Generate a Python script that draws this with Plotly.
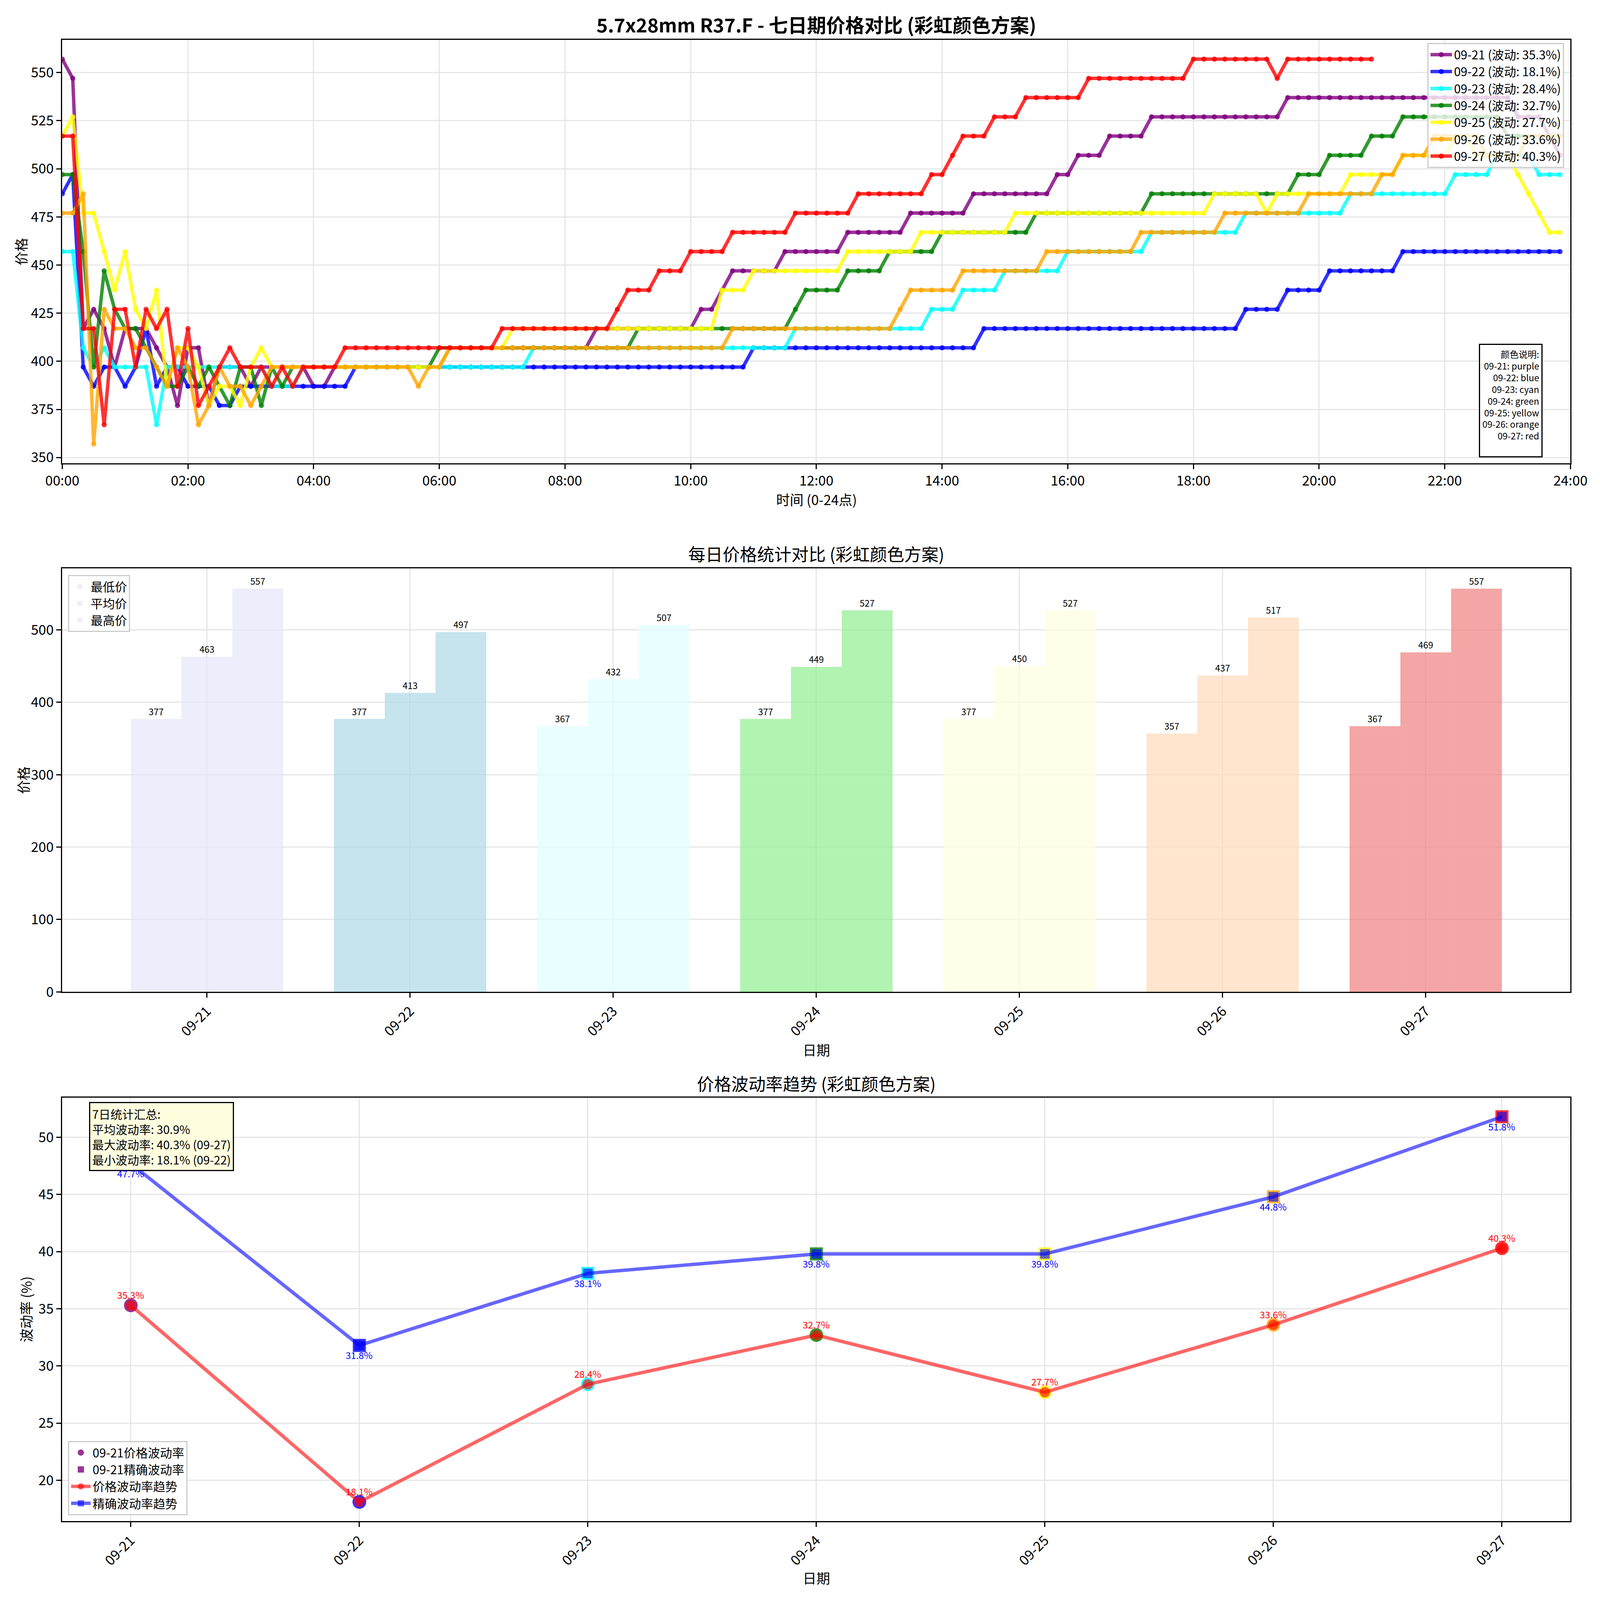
import plotly.graph_objects as go

# dados (preco a cada 10 minutos)
dias = ['09-21', '09-22', '09-23', '09-24', '09-25', '09-26', '09-27']

p_0921 = [557, 547, 417, 427, 417, 397, 417, 417, 417, 407, 397, 377,
          407, 407, 377, 397, 397, 397, 387, 397, 397, 397, 397, 397,
          387, 387, 397, 397, 397, 397, 397, 397, 397, 397, 397, 397,
          397, 407, 407, 407, 407, 407, 407, 407, 407, 407, 407, 407,
          407, 407, 407, 417, 417, 417, 417, 417, 417, 417, 417, 417,
          417, 427, 427, 437, 447, 447, 447, 447, 447, 457, 457, 457,
          457, 457, 457, 467, 467, 467, 467, 467, 467, 477, 477, 477,
          477, 477, 477, 487, 487, 487, 487, 487, 487, 487, 487, 497,
          497, 507, 507, 507, 517, 517, 517, 517, 527, 527, 527, 527,
          527, 527, 527, 527, 527, 527, 527, 527, 527, 537, 537, 537,
          537, 537, 537, 537, 537, 537, 537, 537, 537, 537, 537, 537,
          537, 537, 537, 537, 537, 537, 537, 527, 527, 527, 517, 507]

p_0922 = [487, 497, 397, 387, 397, 397, 387, 397, 417, 387, 397, 397,
          387, 387, 387, 377, 377, 387, 387, 387, 387, 387, 387, 387,
          387, 387, 387, 387, 397, 397, 397, 397, 397, 397, 397, 397,
          397, 397, 397, 397, 397, 397, 397, 397, 397, 397, 397, 397,
          397, 397, 397, 397, 397, 397, 397, 397, 397, 397, 397, 397,
          397, 397, 397, 397, 397, 397, 407, 407, 407, 407, 407, 407,
          407, 407, 407, 407, 407, 407, 407, 407, 407, 407, 407, 407,
          407, 407, 407, 407, 417, 417, 417, 417, 417, 417, 417, 417,
          417, 417, 417, 417, 417, 417, 417, 417, 417, 417, 417, 417,
          417, 417, 417, 417, 417, 427, 427, 427, 427, 437, 437, 437,
          437, 447, 447, 447, 447, 447, 447, 447, 457, 457, 457, 457,
          457, 457, 457, 457, 457, 457, 457, 457, 457, 457, 457, 457]

p_0923 = [457, 457, 407, 397, 407, 397, 397, 397, 397, 367, 397, 397,
          397, 397, 397, 397, 397, 397, 397, 397, 387, 387, 387, 397,
          397, 397, 397, 397, 397, 397, 397, 397, 397, 397, 397, 397,
          397, 397, 397, 397, 397, 397, 397, 397, 397, 407, 407, 407,
          407, 407, 407, 407, 407, 407, 407, 407, 407, 407, 407, 407,
          407, 407, 407, 407, 407, 407, 407, 407, 407, 407, 417, 417,
          417, 417, 417, 417, 417, 417, 417, 417, 417, 417, 417, 427,
          427, 427, 437, 437, 437, 437, 447, 447, 447, 447, 447, 447,
          457, 457, 457, 457, 457, 457, 457, 457, 467, 467, 467, 467,
          467, 467, 467, 467, 467, 477, 477, 477, 477, 477, 477, 477,
          477, 477, 477, 487, 487, 487, 487, 487, 487, 487, 487, 487,
          487, 497, 497, 497, 497, 507, 507, 507, 507, 497, 497, 497]

p_0924 = [497, 497, 457, 397, 447, 427, 417, 417, 407, 397, 387, 387,
          397, 387, 397, 387, 377, 397, 397, 377, 397, 387, 397, 397,
          397, 397, 397, 397, 397, 397, 397, 397, 397, 397, 397, 397,
          407, 407, 407, 407, 407, 407, 407, 407, 407, 407, 407, 407,
          407, 407, 407, 407, 407, 407, 407, 417, 417, 417, 417, 417,
          417, 417, 417, 417, 417, 417, 417, 417, 417, 417, 427, 437,
          437, 437, 437, 447, 447, 447, 447, 457, 457, 457, 457, 457,
          467, 467, 467, 467, 467, 467, 467, 467, 467, 477, 477, 477,
          477, 477, 477, 477, 477, 477, 477, 477, 487, 487, 487, 487,
          487, 487, 487, 487, 487, 487, 487, 487, 487, 487, 497, 497,
          497, 507, 507, 507, 507, 517, 517, 517, 527, 527, 527, 527,
          527, 527, 527, 527, 527, 527, 517, 517, 517, 517, 517, 517]

p_0925 = [517, 527, 477, 477, 457, 437, 457, 427, 417, 437, 387, 407,
          407, 397, 377, 387, 387, 377, 397, 407, 397, 397, 397, 397,
          397, 397, 397, 397, 397, 397, 397, 397, 397, 397, 397, 397,
          397, 407, 407, 407, 407, 407, 407, 417, 417, 417, 417, 417,
          417, 417, 417, 417, 417, 417, 417, 417, 417, 417, 417, 417,
          417, 417, 417, 437, 437, 437, 447, 447, 447, 447, 447, 447,
          447, 447, 447, 457, 457, 457, 457, 457, 457, 457, 467, 467,
          467, 467, 467, 467, 467, 467, 467, 477, 477, 477, 477, 477,
          477, 477, 477, 477, 477, 477, 477, 477, 477, 477, 477, 477,
          477, 477, 487, 487, 487, 487, 487, 477, 487, 487, 487, 487,
          487, 487, 487, 497, 497, 497, 497, 497, 507, 507, 507, 507,
          507, 517, 517, 507, 507, 507, 507, 497, 487, 477, 467, 467]

p_0926 = [477, 477, 487, 357, 427, 417, 417, 407, 407, 397, 387, 407,
          397, 367, 377, 397, 387, 387, 377, 387, 397, 397, 397, 397,
          397, 397, 397, 397, 397, 397, 397, 397, 397, 397, 387, 397,
          397, 407, 407, 407, 407, 407, 407, 407, 407, 407, 407, 407,
          407, 407, 407, 407, 407, 407, 407, 407, 407, 407, 407, 407,
          407, 407, 407, 407, 417, 417, 417, 417, 417, 417, 417, 417,
          417, 417, 417, 417, 417, 417, 417, 417, 427, 437, 437, 437,
          437, 437, 447, 447, 447, 447, 447, 447, 447, 447, 457, 457,
          457, 457, 457, 457, 457, 457, 457, 467, 467, 467, 467, 467,
          467, 467, 467, 477, 477, 477, 477, 477, 477, 477, 477, 487,
          487, 487, 487, 487, 487, 487, 497, 497, 507, 507, 507, 517,
          517, 517, 517, 517, 507, 507, 507, 507, 517, 517, 517, 517]

p_0927 = [517, 517, 417, 417, 367, 427, 427, 397, 427, 417, 427, 387,
          417, 377, 387, 397, 407, 397, 397, 397, 387, 397, 387, 397,
          397, 397, 397, 407, 407, 407, 407, 407, 407, 407, 407, 407,
          407, 407, 407, 407, 407, 407, 417, 417, 417, 417, 417, 417,
          417, 417, 417, 417, 417, 427, 437, 437, 437, 447, 447, 447,
          457, 457, 457, 457, 467, 467, 467, 467, 467, 467, 477, 477,
          477, 477, 477, 477, 487, 487, 487, 487, 487, 487, 487, 497,
          497, 507, 517, 517, 517, 527, 527, 527, 537, 537, 537, 537,
          537, 537, 547, 547, 547, 547, 547, 547, 547, 547, 547, 547,
          557, 557, 557, 557, 557, 557, 557, 557, 547, 557, 557, 557,
          557, 557, 557, 557, 557, 557]

precos = [p_0921, p_0922, p_0923, p_0924, p_0925, p_0926, p_0927]

# estatisticas diarias (valores escritos no grafico)
preco_min = [377, 377, 367, 377, 377, 357, 367]
preco_medio = [463, 413, 432, 449, 450, 437, 469]
preco_max = [557, 497, 507, 527, 527, 517, 557]

# volatilidade
vol_preco = [35.3, 18.1, 28.4, 32.7, 27.7, 33.6, 40.3]
vol_preciso = [47.7, 31.8, 38.1, 39.8, 39.8, 44.8, 51.8]

horas_ticks = [0, 2, 4, 6, 8, 10, 12, 14, 16, 18, 20, 22, 24]
horas_labels = ['00:00', '02:00', '04:00', '06:00', '08:00', '10:00', '12:00',
                '14:00', '16:00', '18:00', '20:00', '22:00', '24:00']

nomes_cores = ['purple', 'blue', 'cyan', 'green', 'yellow', 'orange', 'red']
cores_linha = ['128,0,128', '0,0,255', '0,255,255', '0,128,0', '255,255,0', '255,165,0', '255,0,0']
cores_barra = ['230,230,250', '173,216,230', '224,255,255', '144,238,144', '255,255,224', '255,218,185', '240,128,128']

FONTE = 'Noto Sans CJK SC'
# medidas da figura original (px) -> as posicoes sao fracoes dela
W, H = 4769, 4468
# a janela do navegador fica em 4096x4096, entao a figura ocupa a janela toda
FIG_W, FIG_H = 4080, 4080
S = 0.88          # escala de fontes e tracos
SY = FIG_H / H    # escala vertical para deslocamentos


def fs(v):
    return round(v * S)


fig = go.Figure()

# ---- grafico 1: linhas de preco
for k in range(len(dias)):
    vals = precos[k]
    horas = [i / 6 for i in range(len(vals))]
    fig.add_trace(go.Scatter(
        x=horas, y=vals, mode='lines+markers',
        name=f'{dias[k]} (波动: {vol_preco[k]}%)',
        line=dict(color=f'rgba({cores_linha[k]},0.8)', width=10 * S),
        marker=dict(size=15 * S, color=f'rgba({cores_linha[k]},0.8)'),
        xaxis='x', yaxis='y', legend='legend'))

# ---- grafico 2: barras
for k in range(len(dias)):
    cor = f'rgba({cores_barra[k]},0.7)'
    for off, vals, nome in [(-0.25, preco_min, '最低价'), (0, preco_medio, '平均价'), (0.25, preco_max, '最高价')]:
        fig.add_trace(go.Bar(
            x=[k + off], y=[vals[k]], width=0.25, name=nome,
            marker=dict(color=cor, line=dict(width=0)),
            text=[str(vals[k])], textposition='outside', textfont=dict(size=fs(26), color='black'),
            showlegend=(k == 0), xaxis='x2', yaxis='y2', legend='legend2'))

# ---- grafico 3: volatilidade
for k in range(len(dias)):
    cor = f'rgba({cores_linha[k]},0.8)'
    fig.add_trace(go.Scatter(x=[k], y=[vol_preco[k]], mode='markers', name=f'{dias[k]}价格波动率',
                             marker=dict(symbol='circle', size=40 * S, color=cor),
                             showlegend=(k == 0), xaxis='x3', yaxis='y3', legend='legend3'))
    fig.add_trace(go.Scatter(x=[k], y=[vol_preciso[k]], mode='markers', name=f'{dias[k]}精确波动率',
                             marker=dict(symbol='square', size=38 * S, color=cor),
                             showlegend=(k == 0), xaxis='x3', yaxis='y3', legend='legend3'))

fig.add_trace(go.Scatter(x=list(range(7)), y=vol_preco, mode='lines+markers', name='价格波动率趋势',
                         line=dict(color='rgba(255,0,0,0.6)', width=10 * S),
                         marker=dict(symbol='circle', size=30 * S, color='rgba(255,0,0,0.6)'),
                         xaxis='x3', yaxis='y3', legend='legend3'))
fig.add_trace(go.Scatter(x=list(range(7)), y=vol_preciso, mode='lines+markers', name='精确波动率趋势',
                         line=dict(color='rgba(0,0,255,0.6)', width=10 * S),
                         marker=dict(symbol='square', size=28 * S, color='rgba(0,0,255,0.6)'),
                         xaxis='x3', yaxis='y3', legend='legend3'))

eixo = dict(showline=True, mirror=True, linecolor='black', linewidth=3,
            ticks='outside', ticklen=12, tickwidth=3, tickcolor='black',
            showgrid=True, gridcolor='#e6e6e6', gridwidth=3, zeroline=False,
            tickfont=dict(size=fs(40), color='black'), automargin=False)

dom_x = [177 / W, 4690 / W]
caixa_leg = dict(bgcolor='rgba(255,255,255,0.8)', bordercolor='#cccccc', borderwidth=3,
                 font=dict(size=fs(35)))

fig.update_layout(
    width=FIG_W, height=FIG_H, autosize=False,
    margin=dict(l=0, r=0, t=0, b=0),
    paper_bgcolor='white', plot_bgcolor='white',
    font=dict(family=FONTE, color='black'),
    barmode='overlay',
    xaxis=dict(eixo, domain=dom_x, anchor='y', range=[0, 24], tickvals=horas_ticks, ticktext=horas_labels),
    yaxis=dict(eixo, domain=[1 - 1290 / H, 1 - 103 / H], anchor='x', range=[347, 567],
               tickvals=[350, 375, 400, 425, 450, 475, 500, 525, 550]),
    xaxis2=dict(eixo, domain=dom_x, anchor='y2', range=[-0.7125, 6.7125],
                tickvals=list(range(7)), ticktext=dias, tickangle=-45),
    yaxis2=dict(eixo, domain=[1 - 2772 / H, 1 - 1585 / H], anchor='x2', range=[0, 584.85],
                tickvals=[0, 100, 200, 300, 400, 500]),
    xaxis3=dict(eixo, domain=dom_x, anchor='y3', range=[-0.3, 6.3],
                tickvals=list(range(7)), ticktext=dias, tickangle=-45),
    yaxis3=dict(eixo, domain=[1 - 4256 / H, 1 - 3068 / H], anchor='x3', range=[16.415, 53.485],
                tickvals=[20, 25, 30, 35, 40, 45, 50]),
    legend=dict(caixa_leg, x=4671 / W, y=1 - 112 / H, xanchor='right', yanchor='top', itemwidth=55),
    legend2=dict(caixa_leg, x=194 / W, y=1 - 1603 / H, xanchor='left', yanchor='top', itemwidth=45),
    legend3=dict(caixa_leg, x=194 / W, y=1 - 4239 / H, xanchor='left', yanchor='bottom', itemwidth=50),
)

anot = []
# titulos
anot.append(dict(text='<b>5.7x28mm R37.F - 七日期价格对比 (彩虹颜色方案)</b>', x=0.5104, y=1 - 59 / H,
                 font=dict(size=fs(56))))
anot.append(dict(text='每日价格统计对比 (彩虹颜色方案)', x=0.5104, y=1 - 1543 / H, font=dict(size=fs(50))))
anot.append(dict(text='价格波动率趋势 (彩虹颜色方案)', x=0.5104, y=1 - 3028 / H, font=dict(size=fs(50))))
# rotulos dos eixos
anot.append(dict(text='时间 (0-24点)', x=0.5104, y=1 - 1390 / H, font=dict(size=fs(40))))
anot.append(dict(text='价格', x=52 / W, y=1 - 696 / H, textangle=-90, font=dict(size=fs(40))))
anot.append(dict(text='日期', x=0.5104, y=1 - 2933 / H, font=dict(size=fs(40))))
anot.append(dict(text='价格', x=60 / W, y=1 - 2178 / H, textangle=-90, font=dict(size=fs(40))))
anot.append(dict(text='日期', x=0.5104, y=1 - 4414 / H, font=dict(size=fs(40))))
anot.append(dict(text='波动率 (%)', x=68 / W, y=1 - 3662 / H, textangle=-90, font=dict(size=fs(40))))
for a in anot:
    a.update(xref='paper', yref='paper', showarrow=False, xanchor='center', yanchor='middle')

# caixa de cores
texto_cores = '颜色说明:<br>' + '<br>'.join(f'{dias[k]}: {nomes_cores[k]}' for k in range(7)) + '<br> '
anot.append(dict(text=texto_cores, xref='paper', yref='paper', x=4606 / W, y=1 - 1274 / H,
                 xanchor='right', yanchor='bottom', align='right', showarrow=False,
                 font=dict(size=fs(26)), bgcolor='white', bordercolor='black', borderwidth=3, borderpad=6))

# caixa de resumo
media = round(sum(vol_preco) / len(vol_preco), 1)
kmax = vol_preco.index(max(vol_preco))
kmin = vol_preco.index(min(vol_preco))
texto_resumo = (f'7日统计汇总:<br>平均波动率: {media}%<br>'
                f'最大波动率: {vol_preco[kmax]}% ({dias[kmax]})<br>'
                f'最小波动率: {vol_preco[kmin]}% ({dias[kmin]})')
anot.append(dict(text=texto_resumo, xref='paper', yref='paper', x=257 / W, y=1 - 3080 / H,
                 xanchor='left', yanchor='top', align='left', showarrow=False,
                 font=dict(size=fs(34)), bgcolor='#FFFFE0', bordercolor='black', borderwidth=3, borderpad=5))

# rotulos de valores
for k in range(7):
    anot.append(dict(text=f'{vol_preco[k]}%', x=k, y=vol_preco[k], xref='x3', yref='y3',
                     yshift=30 * SY, showarrow=False, font=dict(size=fs(27), color='red')))
    anot.append(dict(text=f'{vol_preciso[k]}%', x=k, y=vol_preciso[k], xref='x3', yref='y3',
                     yshift=-27 * SY, showarrow=False, font=dict(size=fs(27), color='blue')))

fig.update_layout(annotations=anot)
fig.write_html('out.html')
